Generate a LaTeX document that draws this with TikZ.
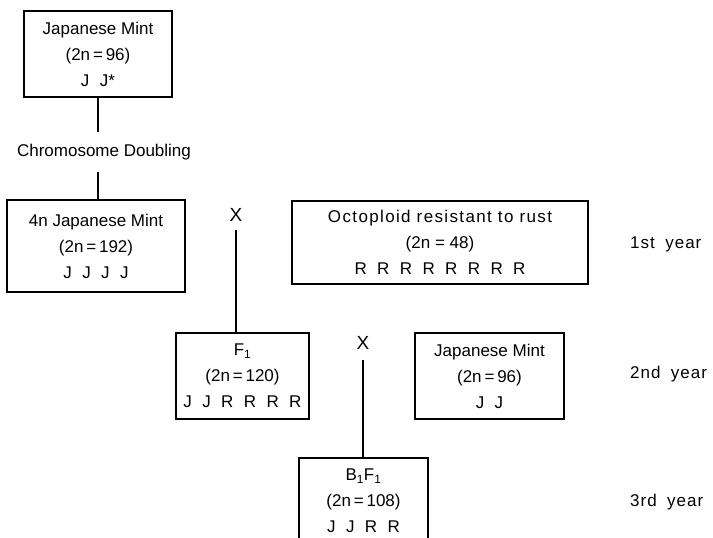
\documentclass[tikz,border=0pt]{standalone}
\usepackage{fontspec}
\setmainfont{Liberation Sans}
\newfontfamily\genefont[WordSpace=2.2]{Liberation Sans}
\newfontfamily\widefont[LetterSpace=8]{Liberation Sans}
\newfontfamily\yearfont[LetterSpace=6, WordSpace=1.8]{Liberation Sans}
\usetikzlibrary{positioning}

\begin{document}
\begin{tikzpicture}[x = 1pt, y = -1pt,
	font = \fontsize{17}{26}\selectfont,
	plant/.style = {draw, line width = 1.3pt, align = center, inner sep = 0pt},
	crossmark/.style = {inner sep = 0pt, font = \fontsize{19}{26}\selectfont},
	link/.style = {line width = 2.8pt},
	yearlabel/.style = {anchor = west, inner sep = 0pt, font = \fontsize{17}{26}\yearfont}]

	\useasboundingbox (0,0) rectangle (713,538);
	\clip (0,0) rectangle (713,538);

	\node [plant, minimum width = 148, minimum height = 86] (mint) at (98,54) {Japanese Mint\\(2n\,=\,96)\\{\genefont J J*}};
	\node [inner sep = 0pt, minimum height = 39] (doubling) at (104,152) {Chromosome Doubling};
	\node [plant, minimum width = 178, minimum height = 92] (tetra) at (96,246) {4n Japanese Mint\\(2n\,=\,192)\\{\genefont J J J J}};
	\node [crossmark, minimum height = 30] (cross1) at (236,215) {X};
	\node [plant, minimum width = 296, minimum height = 83] (octo) at (440,242.5) {{\widefont Octoploid resistant to rust}\\(2n = 48)\\{\genefont R R R R R R R R}};

	\node [plant, minimum width = 133, minimum height = 86] (fone) at (242.5,376) {F\textsubscript{1}\\(2n\,=\,120)\\{\genefont J J R R R R}};
	\node [crossmark, minimum height = 34] (cross2) at (363,343) {X};
	\node [plant, minimum width = 149, minimum height = 86] (mintb) at (489.5,376) {Japanese Mint\\(2n\,=\,96)\\{\genefont J J}};
	\node [plant, minimum width = 129, minimum height = 86] (bone) at (363.5,501) {B\textsubscript{1}F\textsubscript{1}\\(2n\,=\,108)\\{\genefont J J R R}};

	\draw [link] (mint.south) -- (mint.south |- doubling.north);
	\draw [link] (mint.south |- doubling.south) -- (mint.south |- tetra.north);
	\draw [link] (cross1.south) -- (cross1.south |- fone.north);
	\draw [link] (cross2.south) -- (cross2.south |- bone.north);

	\foreach \yr/\ypos in {1st/244, 2nd/374, 3rd/502}
	{
		\node [yearlabel] (year\yr) at (630,\ypos) {\yr{} year};
	}
\end{tikzpicture}
\end{document}
